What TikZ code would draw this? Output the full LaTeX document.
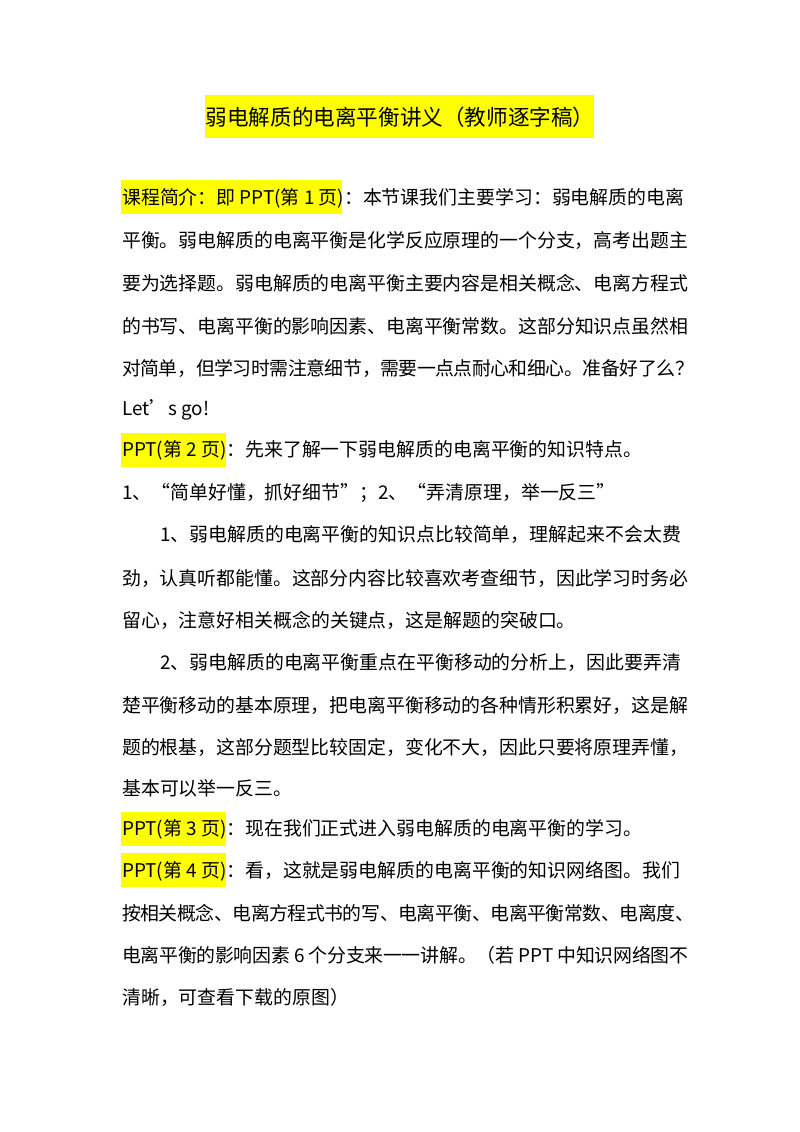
\documentclass[tikz,border=0pt]{standalone}
\usepackage{fontspec}
\setmainfont{Noto Sans CJK SC}
\XeTeXlinebreaklocale "zh"
\XeTeXlinebreakskip=0pt plus 4pt minus 3pt
\tolerance=10000
\definecolor{hl}{HTML}{FFFF00}
\tikzset{
  full/.style={anchor=west,inner sep=0pt,text width=#1,align=justify,font=\fontsize{18.9}{22}\selectfont},
  full/.default=566pt,
  part/.style={anchor=west,inner sep=0pt,font=\fontsize{18.9}{22}\selectfont},
  hlbox/.style={fill=hl,draw=none}
}
\newcommand{\jline}[1]{\parfillskip=0pt \tolerance=10000 \emergencystretch=20pt #1}
\begin{document}
\begin{tikzpicture}[x=1pt,y=-1pt]
\useasboundingbox[fill=white] (0,0) rectangle (800,1132);
% highlights
\fill[hl] (205,95) rectangle (594,138);
\fill[hl] (121,180) rectangle (342,214);
\fill[hl] (121,433) rectangle (226,467);
\fill[hl] (121,812) rectangle (226,846);
\fill[hl] (121,853) rectangle (226,887);
% title
\node[anchor=center,inner sep=0pt,font=\fontsize{21.6}{24}\selectfont] (title) at (400,117) {弱电解质的电离平衡讲义（教师逐字稿）};
% paragraph 1
\node[full] (l1) at (122,198) {\jline{课程简介：即 PPT(第 1 页)：本节课我们主要学习：弱电解质的电离}};
\node[full] (l2) at (122,240) {\jline{平衡。弱电解质的电离平衡是化学反应原理的一个分支，高考出题主}};
\node[full] (l3) at (122,283) {\jline{要为选择题。弱电解质的电离平衡主要内容是相关概念、电离方程式}};
\node[full] (l4) at (122,326) {\jline{的书写、电离平衡的影响因素、电离平衡常数。这部分知识点虽然相}};
\node[full=572pt] (l5) at (122,368) {\jline{对简单，但学习时需注意细节，需要一点点耐心和细心。准备好了么？}};
\node[part] (l6) at (122,410) {Let’s go!};
\node[part] (l7) at (122,450) {PPT(第 2 页)：先来了解一下弱电解质的电离平衡的知识特点。};
\node[part] (l8) at (122,493) {1、“简单好懂，抓好细节”；2、“弄清原理，举一反三”};
\node[full=528pt] (l9) at (160,535) {\jline{1、弱电解质的电离平衡的知识点比较简单，理解起来不会太费}};
\node[full] (l10) at (122,578) {\jline{劲，认真听都能懂。这部分内容比较喜欢考查细节，因此学习时务必}};
\node[part] (l11) at (122,620) {留心，注意好相关概念的关键点，这是解题的突破口。};
\node[full=528pt] (l12) at (160,662) {\jline{2、弱电解质的电离平衡重点在平衡移动的分析上，因此要弄清}};
\node[full] (l13) at (122,705) {\jline{楚平衡移动的基本原理，把电离平衡移动的各种情形积累好，这是解}};
\node[full] (l14) at (122,747) {\jline{题的根基，这部分题型比较固定，变化不大，因此只要将原理弄懂，}};
\node[part] (l15) at (122,788) {基本可以举一反三。};
\node[part] (l16) at (122,829) {PPT(第 3 页)：现在我们正式进入弱电解质的电离平衡的学习。};
\node[full] (l17) at (122,871) {\jline{PPT(第 4 页)：看，这就是弱电解质的电离平衡的知识网络图。我们}};
\node[full=572pt] (l18) at (122,913) {\jline{按相关概念、电离方程式书的写、电离平衡、电离平衡常数、电离度、}};
\node[full] (l19) at (122,955) {\jline{电离平衡的影响因素 6 个分支来一一讲解。（若 PPT 中知识网络图不}};
\node[part] (l20) at (122,997) {清晰，可查看下载的原图）};
\end{tikzpicture}
\end{document}
